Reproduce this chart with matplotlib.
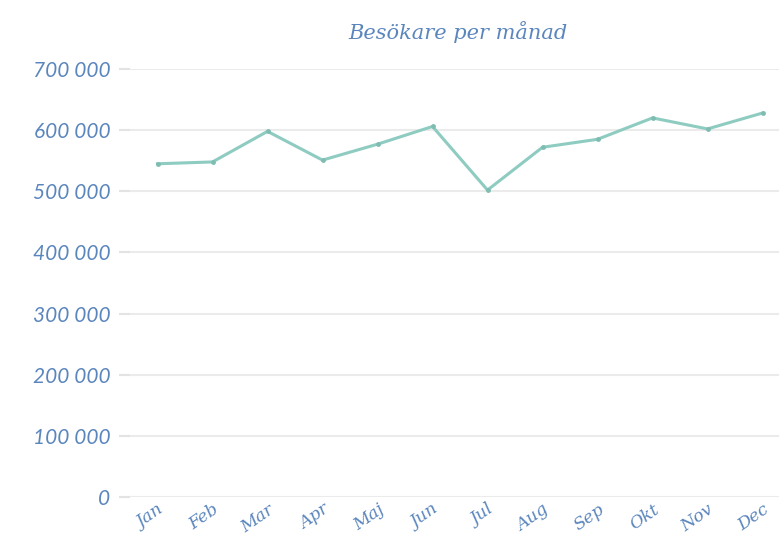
import matplotlib.pyplot as plt
from matplotlib.ticker import FuncFormatter

months = ['Jan', 'Feb', 'Mar', 'Apr', 'Maj', 'Jun', 'Jul', 'Aug', 'Sep', 'Okt', 'Nov', 'Dec']
visitors = [545000, 548000, 598000, 551000, 577000, 606000, 502000, 572000, 585000, 620000, 602000, 628000]
y_ticks = [0, 100000, 200000, 300000, 400000, 500000, 600000, 700000]

label_color = '#5b86bd'
line_color = '#8ecbc1'

fig = plt.figure(figsize=(7.79, 5.40), dpi=100)
ax = fig.add_axes([130 / 779, 43 / 540, 660 / 779, 428 / 540])

x = list(range(len(months)))
ax.plot(x, visitors, color=line_color, linewidth=2.2, marker='o', markersize=3.5,
        markerfacecolor='#7fbcb2', markeredgewidth=0, zorder=3)

ax.set_xlim(-0.5, 11.5)
ax.set_ylim(0, 700000)
ax.set_yticks(y_ticks)
ax.yaxis.set_major_formatter(FuncFormatter(lambda v, p: f'{int(v):,}'.replace(',', ' ')))
ax.grid(axis='y', color='#ebebeb', linewidth=1.5)
ax.set_axisbelow(True)
for s in ax.spines.values():
    s.set_visible(False)

ax.tick_params(axis='y', length=8, width=1.5, color='#e3e3e3', pad=6,
               labelsize=15, labelcolor=label_color)
for t in ax.get_yticklabels():
    t.set_fontstyle('italic')
    t.set_family('Lato')

ax.set_xticks(x)
ax.set_xticklabels(months, rotation=35, ha='right', va='top', rotation_mode='anchor',
                   fontsize=12.5, color=label_color, fontstyle='italic', family='DejaVu Serif')
ax.tick_params(axis='x', length=0, pad=3)

fig.text(458 / 779, 1 - 32 / 540, 'Besökare per månad', ha='center', va='center',
         fontsize=15, color=label_color, fontstyle='italic', family='DejaVu Serif')

fig.savefig('out.png', dpi=100)
